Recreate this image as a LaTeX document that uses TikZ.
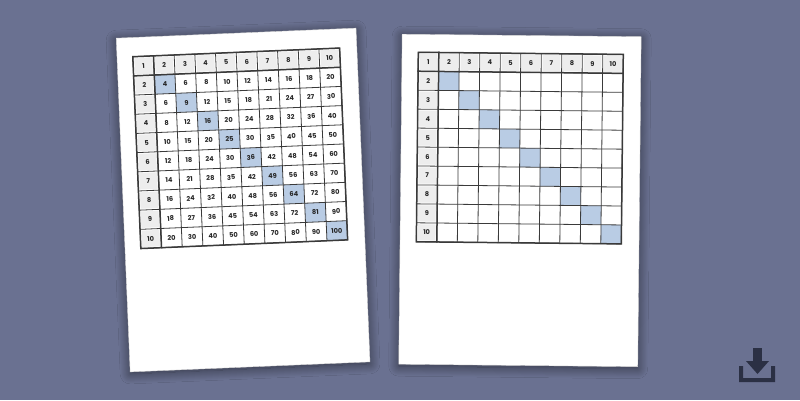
\documentclass[tikz,border=0pt]{standalone}
\usepackage{fontspec}
\setmainfont{Poppins}
\usetikzlibrary{shadows.blur}
\definecolor{bg}{HTML}{6A7191}
\definecolor{diag}{HTML}{B9CCE4}
\definecolor{hdr}{HTML}{EDEDED}
\definecolor{gridc}{HTML}{3A3A3A}
\definecolor{icon}{HTML}{2B3044}
\tikzset{
  sheet/.style={fill=white, draw=gray!30, line width=0.4pt, inner sep=0pt, anchor=north west,
    blur shadow={shadow xshift=0pt, shadow yshift=-2pt, shadow blur radius=10pt, shadow opacity=55, shadow blur steps=14}},
  cellnum/.style={font=\fontsize{6.6}{7}\selectfont\bfseries, text=black!85, inner sep=0pt},
  gridline/.style={draw=gridc, line width=0.8pt},
  sepline/.style={draw=gridc, line width=1.5pt, line cap=rect},
}
\newcommand\mtable[2]{%
  \foreach \r in {1,...,10}{\foreach \c in {1,...,10}{%
    \pgfmathsetmacro\xa{(\c-1)*\cellw}\pgfmathsetmacro\ya{(\r-1)*\cellh}%
    \pgfmathsetmacro\xb{\xa+\cellw}\pgfmathsetmacro\yb{\ya+\cellh}%
    \pgfmathsetmacro\xc{\xa+\cellw/2}\pgfmathsetmacro\yc{\ya+\cellh/2}%
    \pgfmathtruncatemacro\val{\r*\c}%
    \pgfmathtruncatemacro\ishdr{(\r==1)||(\c==1)}%
    \ifnum\ishdr=1
      \fill[hdr] (\xa+1.4,\ya+1.4) rectangle (\xb-1.4,\yb-1.4);
      \node[cellnum] (#1-\r-\c) at (\xc,\yc) {\val};
    \else
      \ifnum\r=\c \fill[diag] (\xa,\ya) rectangle (\xb,\yb);\fi
      \ifnum#2=1 \node[cellnum] (#1-\r-\c) at (\xc,\yc) {\val};\fi
    \fi
  }}
  \foreach \i in {0,...,10}{%
    \draw[gridline] (\i*\cellw,0) -- (\i*\cellw,10*\cellh);
    \draw[gridline] (0,\i*\cellh) -- (10*\cellw,\i*\cellh);
  }
  \draw[sepline] (\cellw,0) -- (\cellw,10*\cellh);
  \draw[sepline] (0,\cellh) -- (10*\cellw,\cellh);
  \draw[sepline] (0,0) rectangle (10*\cellw,10*\cellh);
}
\begin{document}
\begin{tikzpicture}[x=1pt,y=-1pt]
\useasboundingbox (0,0) rectangle (800,400);
\fill[bg] (0,0) rectangle (800,400);

% left sheet
\begin{scope}[shift={(116,38)}, rotate=2.4, transform shape]
  \node[sheet, minimum width=240pt, minimum height=334pt] (Lsheet) at (0,0) {};
  \begin{scope}[shift={(16,19.4)}]
    \def\cellw{20.7}\def\cellh{19.2}
    \mtable{L}{1}
  \end{scope}
\end{scope}

% right sheet
\begin{scope}[shift={(402,34)}, rotate=-0.6, transform shape]
  \node[sheet, minimum width=239pt, minimum height=330pt] (Rsheet) at (0,0) {};
  \begin{scope}[shift={(16.5,18.1)}]
    \def\cellw{20.5}\def\cellh{18.95}
    \mtable{R}{0}
  \end{scope}
\end{scope}

% download icon
\fill[icon] (753,348) rectangle (761.5,362);
\fill[icon] (746,361) -- (769,361) -- (757.5,374) -- cycle;
\fill[icon] (739,366) -- (743,366) -- (743,378) -- (771,378) -- (771,366) -- (775,366) -- (775,382) -- (739,382) -- cycle;
\end{tikzpicture}
\end{document}
